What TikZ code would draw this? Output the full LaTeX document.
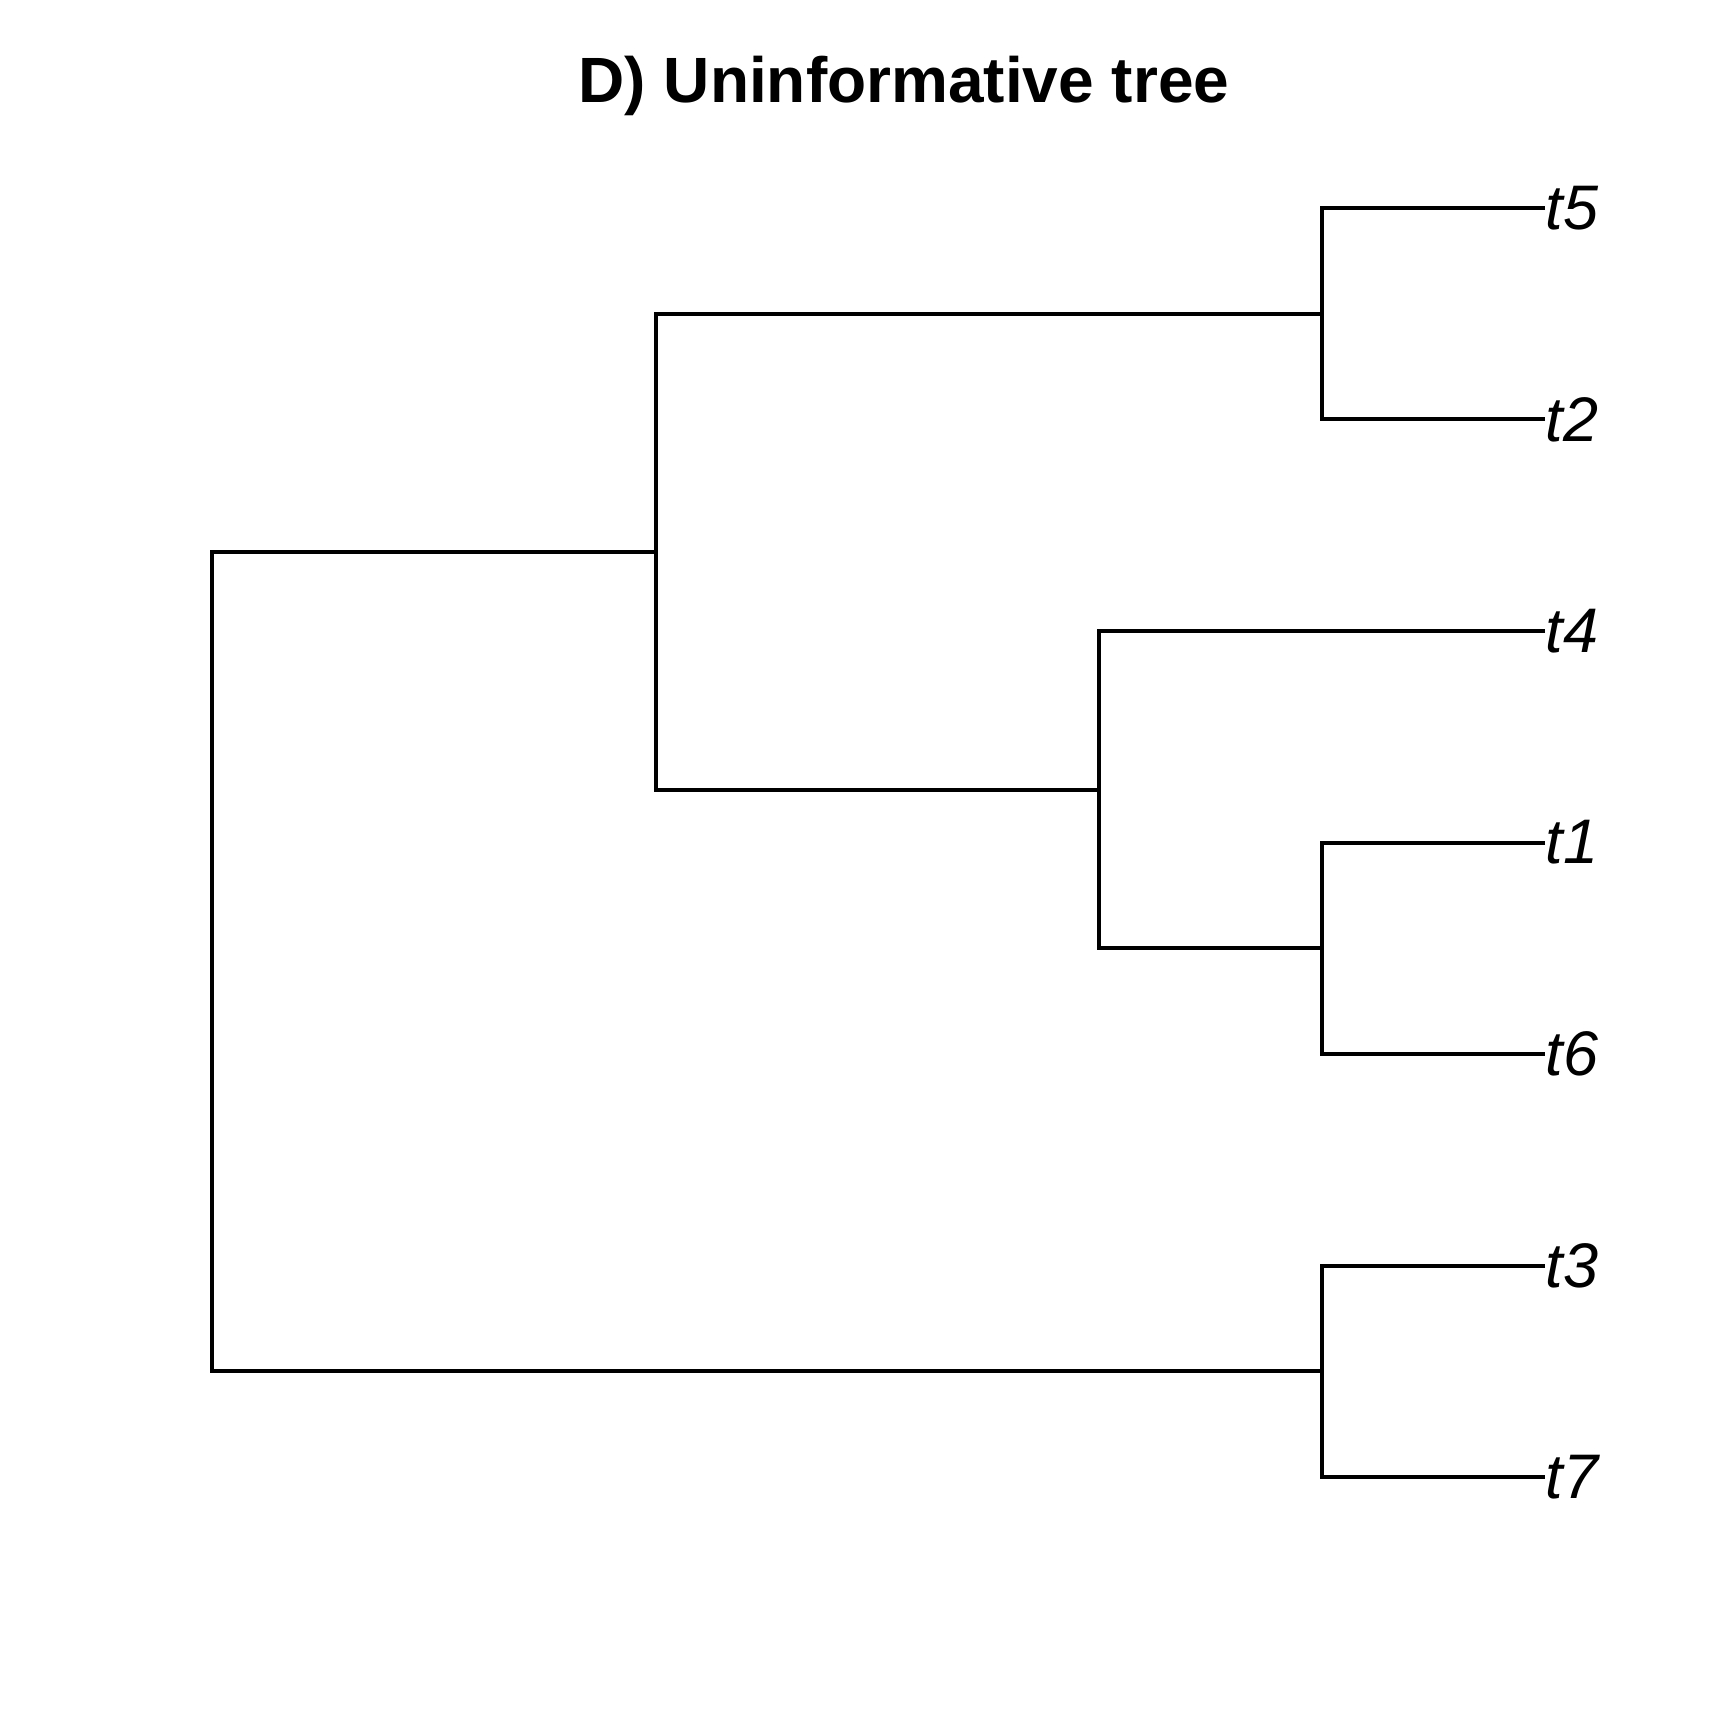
\documentclass[tikz,border=0pt]{standalone}
\usepackage{fontspec}
\setmainfont{Liberation Sans}
\usetikzlibrary{positioning}
\tikzset{
  branch/.style={line width=0.04cm},
  tiplabel/.style={anchor=west, inner xsep=0pt, inner ysep=0pt, font=\fontsize{17.9pt}{21pt}\selectfont\itshape},
  plottitle/.style={anchor=base, inner sep=0pt, font=\fontsize{18.2pt}{22pt}\selectfont\bfseries}
}
\begin{document}
\begin{tikzpicture}[x=0.01cm,y=-0.01cm]
\useasboundingbox (0,0) rectangle (1728,1728);
\node[plottitle] (title) at (904,103) {D) Uninformative tree};
% tips
\foreach \lab/\y in {t5/208,t2/419.5,t4/631,t1/842.5,t6/1054,t3/1265.5,t7/1477} {
  \node[tiplabel] (\lab) at (1545,\y) {\lab};
}
% inner nodes
\coordinate (n52) at (1322,313.75);
\coordinate (n16) at (1322,948.25);
\coordinate (n37) at (1322,1371.25);
\coordinate (nB) at (1099,789.6);
\coordinate (nA) at (656,551.7);
\coordinate (root) at (212,961.5);
\draw[branch] (t5.west) -| (n52) |- (t2.west);
\draw[branch] (t1.west) -| (n16) |- (t6.west);
\draw[branch] (t3.west) -| (n37) |- (t7.west);
\draw[branch] (t4.west) -| (nB) |- (n16);
\draw[branch] (n52) -| (nA) |- (nB);
\draw[branch] (nA) -| (root) |- (n37);
\end{tikzpicture}
\end{document}
